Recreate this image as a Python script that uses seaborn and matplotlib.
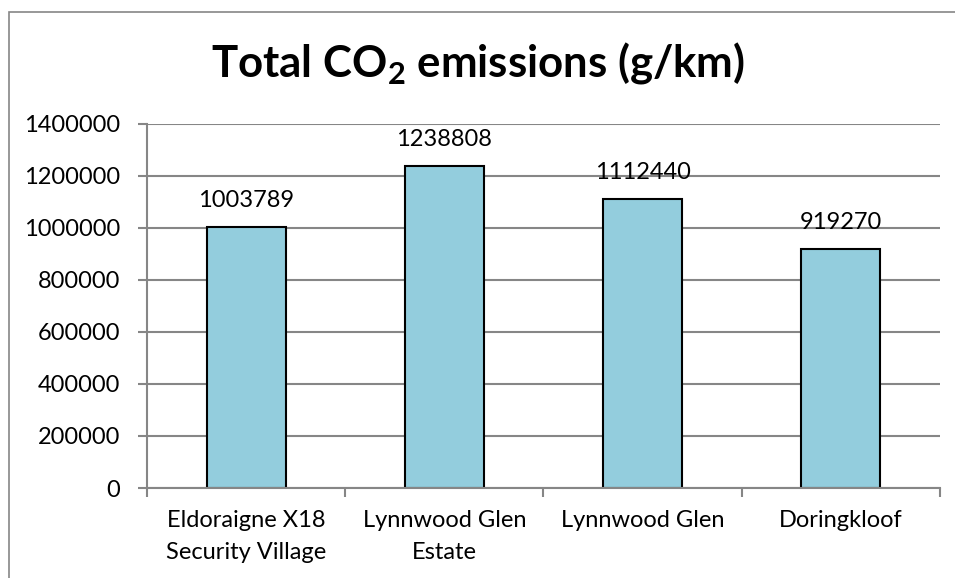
import matplotlib
matplotlib.use("Agg")
import matplotlib.pyplot as plt
import seaborn as sns
import pandas as pd
from matplotlib.patches import Rectangle

# Chart data
areas = ["Eldoraigne X18\nSecurity Village", "Lynnwood Glen\nEstate", "Lynnwood Glen", "Doringkloof"]
emissions = [1003789, 1238808, 1112440, 919270]
y_ticks = [0, 200000, 400000, 600000, 800000, 1000000, 1200000, 1400000]

df = pd.DataFrame({"area": areas, "co2": emissions})

sns.set_theme(style="white")
plt.rcParams["font.family"] = ["Lato", "DejaVu Sans"]
plt.rcParams["mathtext.fontset"] = "custom"
plt.rcParams["mathtext.bf"] = "Lato:bold"
plt.rcParams["mathtext.rm"] = "Lato"

fig = plt.figure(figsize=(9.55, 5.78), dpi=100)
ax = fig.add_axes([0.154, 0.1557, 0.83, 0.63])

sns.barplot(data=df, x="area", y="co2", color="#93CDDD", edgecolor="black",
            linewidth=1.5, width=0.4, saturation=1, ax=ax)

ax.set_ylim(0, 1400000)
ax.set_yticks(y_ticks)
ax.set_yticklabels([str(t) for t in y_ticks], fontsize=17, color="black")
ax.set_xlim(-0.5, len(areas) - 0.5)
ax.set_xticks(range(len(areas)))
ax.set_xticklabels(areas, fontsize=17, color="black", linespacing=1.65)
ax.yaxis.grid(True, color="#868686", linewidth=1.5)
ax.set_axisbelow(True)
ax.set_xlabel("")
ax.set_ylabel("")

for s in ["top", "right"]:
    ax.spines[s].set_visible(False)
for s in ["left", "bottom"]:
    ax.spines[s].set_color("#868686")
    ax.spines[s].set_linewidth(1.5)

ax.tick_params(axis="y", left=True, length=6.5, width=1.5, color="#868686", pad=13)
ax.tick_params(axis="x", which="major", length=0, pad=16)
ax.set_xticks([i - 0.5 for i in range(len(areas) + 1)], minor=True)
ax.tick_params(axis="x", which="minor", bottom=True, length=6.5, width=1.5, color="#868686")

# value labels over the bars
for i, v in enumerate(emissions):
    ax.annotate(str(v), (i, v), xytext=(0, 14), textcoords="offset points",
                ha="center", va="baseline", fontsize=17, color="black")

fig.text(0.5, 1 - 77 / 578, r"Total CO$_\mathbf{2}$ emissions (g/km)", ha="center", va="baseline",
         fontsize=31.5, fontweight="bold", color="black")

# chart frame like an office chart area
fig.patches.append(Rectangle((9 / 955, -0.1), 1.2, 1 - 12 / 578 + 0.1, transform=fig.transFigure,
                             fill=False, edgecolor="#868686", linewidth=1.2))

fig.savefig("out.png", dpi=100)
